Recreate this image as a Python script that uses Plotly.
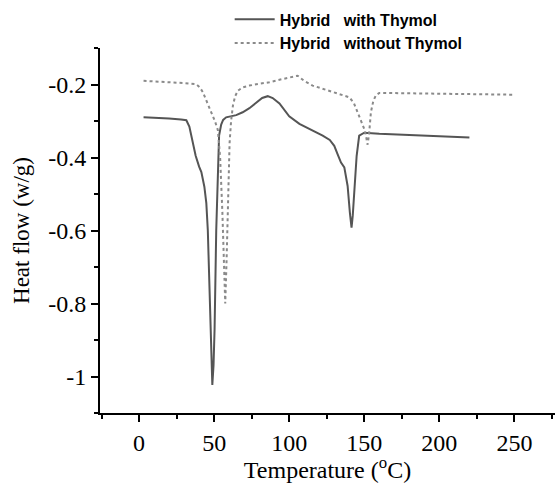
import plotly.graph_objects as go

# --- DATOS ---
temp_con = [3, 10, 20, 28, 31.5, 33.5, 35.5, 37.7, 40, 41.5, 43.5, 44.8, 45.8, 46.5,
            47.3, 48.1, 48.8, 49.6, 50.3, 51.4, 52.5, 53.3, 54.7, 56, 58, 61, 64.7,
            69, 73.5, 78, 82, 85.7, 89, 93.5, 100, 106.8, 114, 122.3, 127, 130, 132.2,
            134.5, 136.7, 138.9, 140.4, 141.5, 142.3, 143.3, 144.9, 146.6, 150, 160,
            182, 200, 220]
flujo_con = [-0.290, -0.291, -0.293, -0.296, -0.298, -0.315, -0.35, -0.395, -0.425,
             -0.44, -0.48, -0.525, -0.60, -0.69, -0.80, -0.92, -1.023, -0.97, -0.87,
             -0.60, -0.41, -0.34, -0.31, -0.297, -0.29, -0.287, -0.284, -0.276, -0.265,
             -0.25, -0.237, -0.232, -0.237, -0.252, -0.287, -0.308, -0.322, -0.34,
             -0.352, -0.368, -0.391, -0.414, -0.427, -0.478, -0.551, -0.592, -0.56,
             -0.505, -0.396, -0.34, -0.332, -0.335, -0.339, -0.342, -0.345]

temp_sin = [3, 15, 30, 38, 40.5, 42.5, 45, 48, 50.5, 52.5, 54, 55.5, 57.4, 58.3, 59.3,
            60.3, 61.3, 62.5, 64, 65.8, 69, 73.5, 80, 86.8, 93.5, 98, 102, 105.6, 110,
            115.6, 121, 126.7, 133, 140, 143, 145.5, 148, 150, 151.3, 152.2, 153.2,
            154.4, 156, 157.7, 160, 180, 200, 230, 250]
flujo_sin = [-0.190, -0.192, -0.196, -0.199, -0.208, -0.221, -0.245, -0.276, -0.30,
             -0.325, -0.40, -0.55, -0.80, -0.68, -0.50, -0.36, -0.30, -0.258, -0.232,
             -0.217, -0.208, -0.203, -0.198, -0.194, -0.187, -0.183, -0.179, -0.176,
             -0.19, -0.203, -0.21, -0.217, -0.225, -0.235, -0.25, -0.276, -0.30, -0.322,
             -0.345, -0.365, -0.335, -0.276, -0.245, -0.23, -0.223, -0.224, -0.225,
             -0.227, -0.228]

ticks_x = [0, 50, 100, 150, 200, 250]
etiquetas_x = ['0', '50', '100', '150', '200', '250']
ticks_y = [-1, -0.8, -0.6, -0.4, -0.2]
etiquetas_y = ['-1', '-0.8', '-0.6', '-0.4', '-0.2']

SERIF = 'Liberation Serif, Times New Roman, serif'
SANS = 'Liberation Sans, Arial, sans-serif'
ESP = '\u00a0\u00a0\u00a0'

fig = go.Figure()
fig.add_trace(go.Scatter(x=temp_con, y=flujo_con, mode='lines',
                         name='Hybrid' + ESP + 'with Thymol',
                         line=dict(color='#555555', width=2)))
fig.add_trace(go.Scatter(x=temp_sin, y=flujo_sin, mode='lines',
                         name='Hybrid' + ESP + 'without Thymol',
                         line=dict(color='#8a8a8a', width=2, dash='dot')))

eje = dict(showgrid=False, zeroline=False, showline=True, linecolor='black',
           linewidth=2, ticks='outside', ticklen=7, tickwidth=2, tickcolor='black',
           automargin=False,
           tickfont=dict(family=SERIF, size=24, color='black'))

fig.update_layout(
    width=555, height=483,
    margin=dict(l=100, r=0, t=48, b=70),
    plot_bgcolor='white', paper_bgcolor='white',
    legend=dict(x=0.285, y=1.125, xanchor='left', yanchor='top',
                font=dict(family=SANS, size=16, color='black', weight='bold'),
                bgcolor='rgba(0,0,0,0)', itemwidth=40, tracegroupgap=0),
    xaxis=dict(eje, range=[-26, 277], tickvals=ticks_x, ticktext=etiquetas_x,
               minor=dict(ticks='outside', ticklen=4, tickwidth=2, tickcolor='black',
                          tick0=-25, dtick=25),
               title=dict(text='Temperature (<sup>o</sup>C)', standoff=4,
                          font=dict(family=SERIF, size=24, color='black'))),
    yaxis=dict(eje, range=[-1.1, -0.1], tickvals=ticks_y, ticktext=etiquetas_y,
               minor=dict(ticks='outside', ticklen=4, tickwidth=2, tickcolor='black',
                          tick0=-0.1, dtick=0.1),
               title=dict(text='Heat flow (w/g)', standoff=12,
                          font=dict(family=SERIF, size=23, color='black'))),
)

# quitar el margen por defecto del body para que la figura ocupe la ventana
fig.write_html('out.html', config={'displayModeBar': False},
               post_script="document.body.style.margin='0';document.body.style.overflow='hidden';")
